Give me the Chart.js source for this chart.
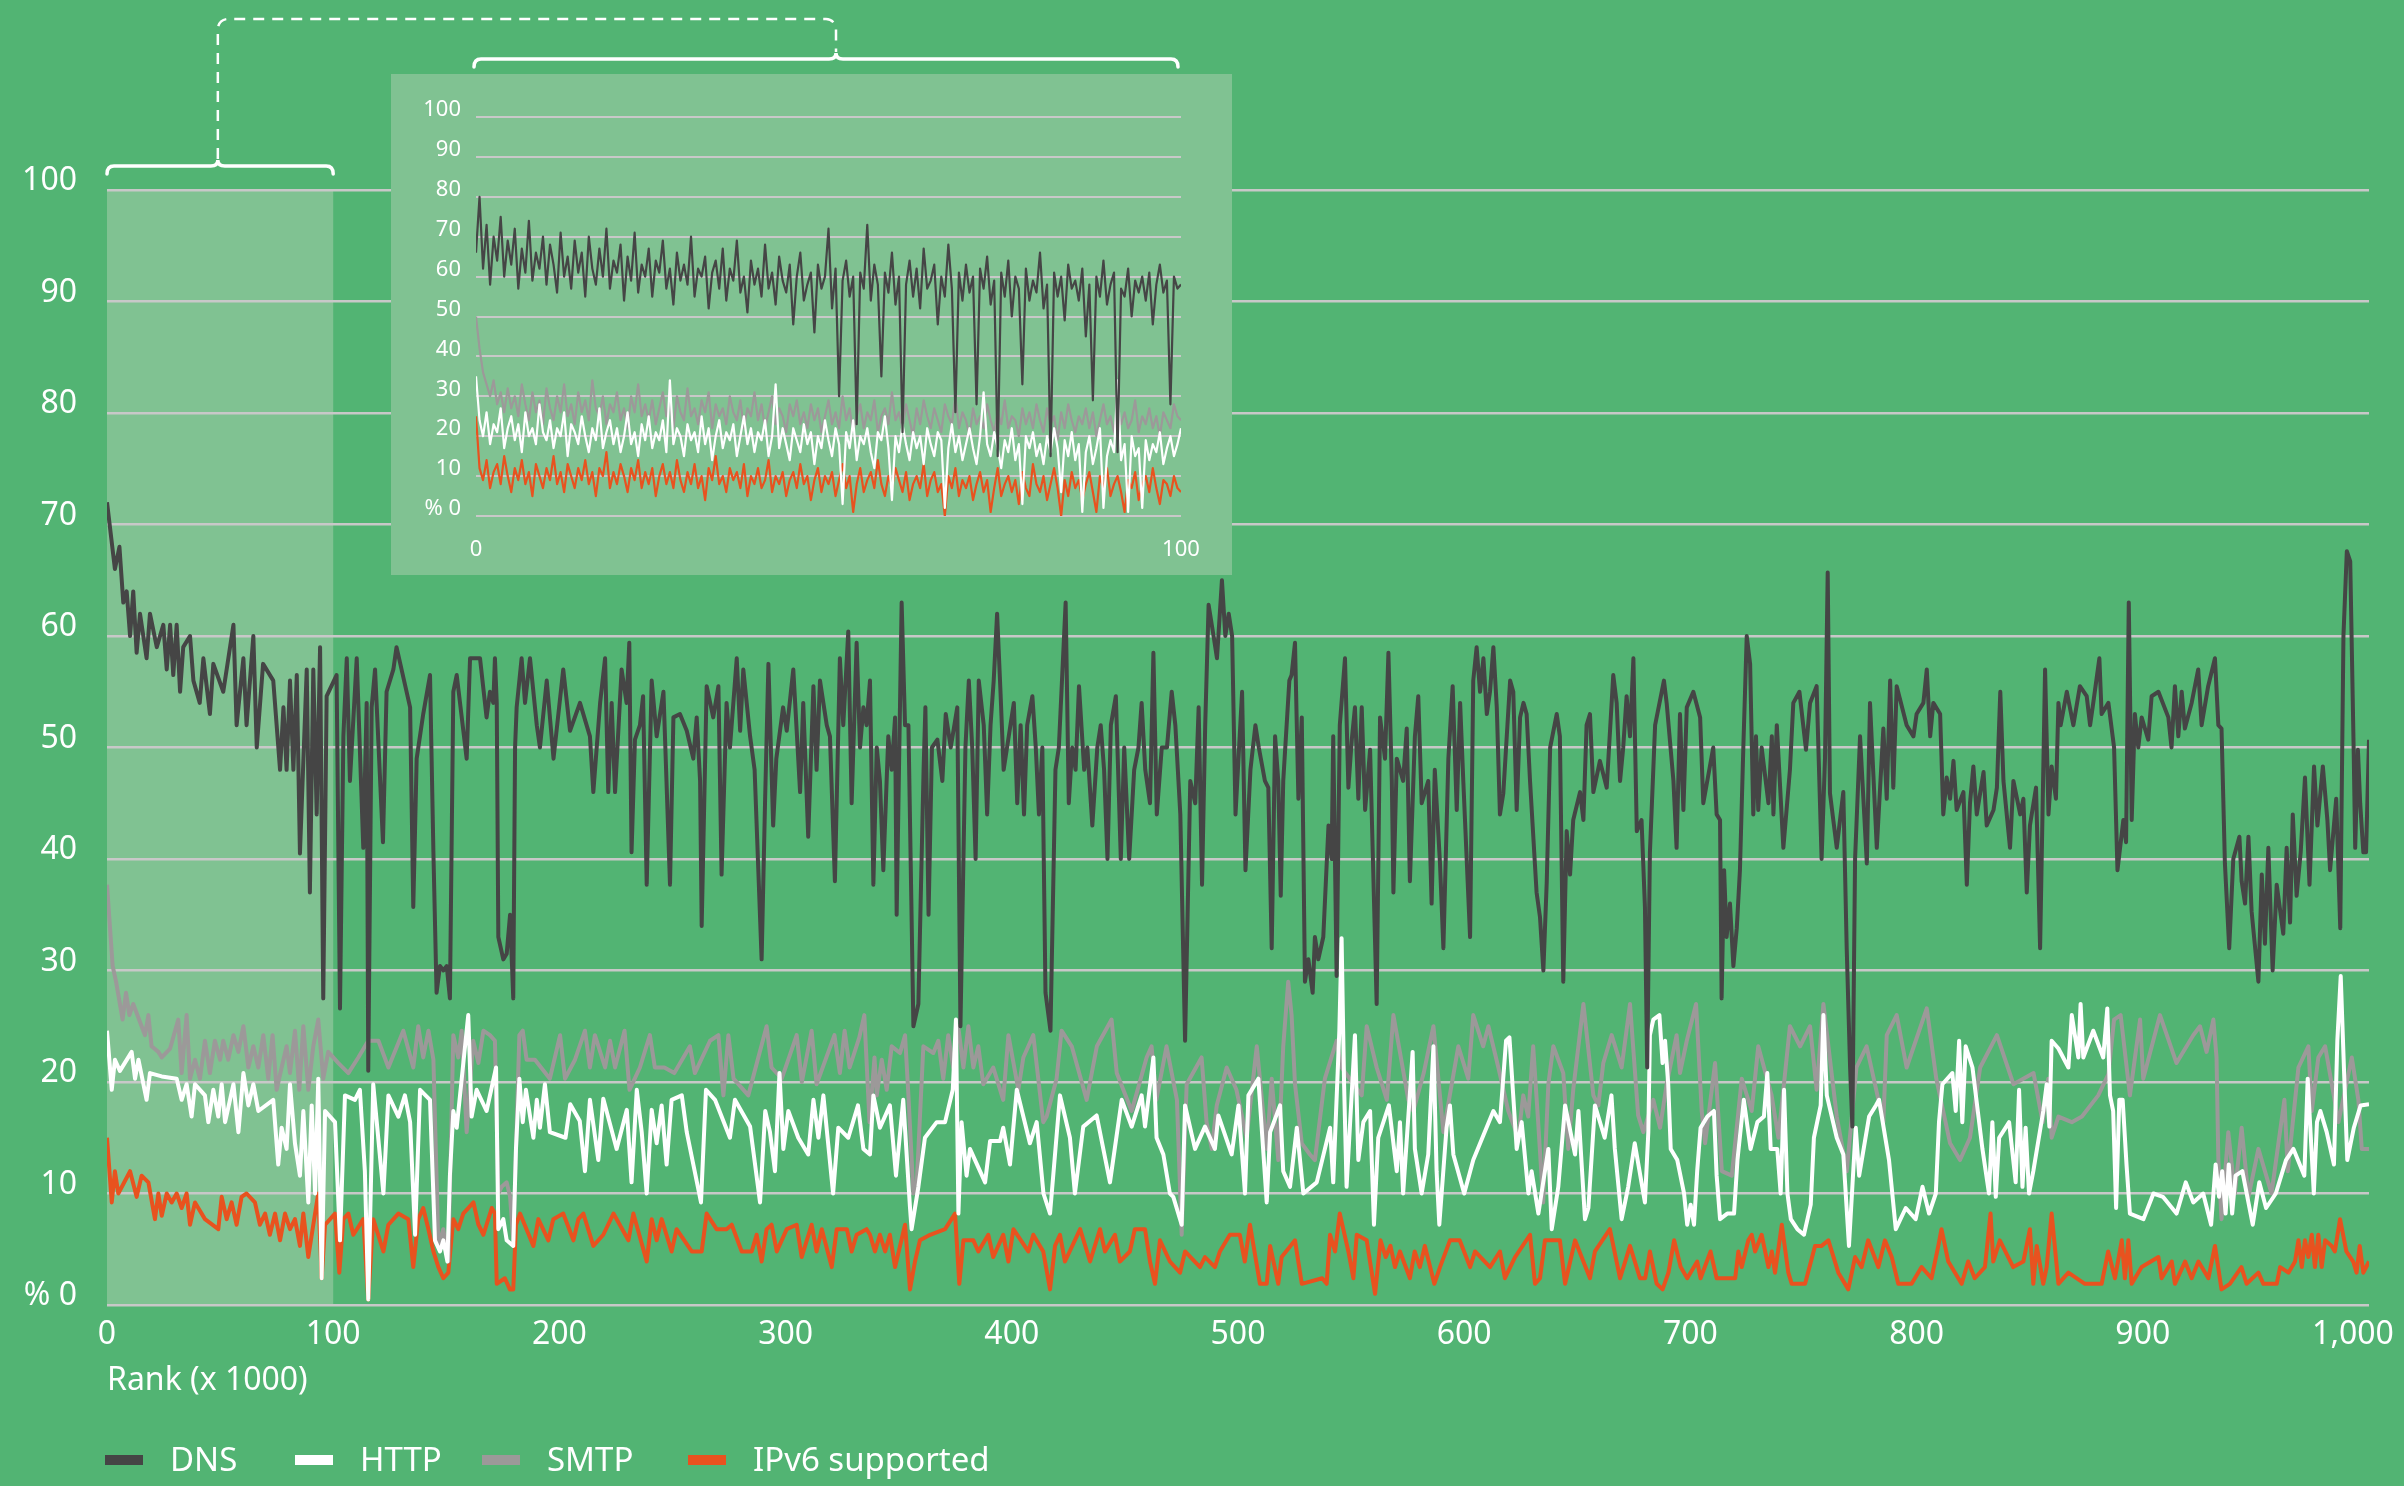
<!DOCTYPE html>
<html>
<head>
<meta charset="utf-8">
<script src="https://cdn.jsdelivr.net/npm/chart.js@4.4.1/dist/chart.umd.min.js"></script>
<style>
html, body { margin: 0; padding: 0; background: #52b473; }
#wrap { position: relative; width: 2404px; height: 1486px; overflow: hidden; }
#main { position: absolute; left: 0; top: 0; }
#inset { position: absolute; left: 391px; top: 74px; background: #80c292; }
</style>
</head>
<body>
<div id="wrap">
  <canvas id="main" width="2404" height="1486"></canvas>
  <canvas id="inset" width="841" height="501"></canvas>
</div>
<script>
// series as [rank (x1000), percent]
const seriesLabels = ['DNS', 'HTTP', 'SMTP', 'IPv6 supported'];
const seriesColors = ['#454545', '#ffffff', '#9c9999', '#e8521f'];

const dnsMain = [[0,72],[3.5,66],[5.5,68],[7.2,63],[8.7,64],[10.2,60],[11.6,64],[13.1,58.5],[14.6,62],[17.5,58],[19,62],[22,59],[24.9,61],[26.4,57],[27.9,61],[29.3,56.5],[30.8,61],[32.3,55],[33.7,59],[36.7,60],[38.2,56],[41,54],[42.6,58],[45.5,53],[47,57.5],[51.4,55],[55.9,61],[57.3,52],[60.3,58],[61.7,52],[64.7,60],[66.2,50],[69,57.5],[73.5,56],[76.5,48],[78,53.6],[79.4,48],[80.9,56],[82.4,48],[83.9,56.5],[85.3,40.5],[88.3,57],[89.7,37],[91.2,57],[92.7,44],[94.2,59],[95.6,27.5],[97.1,54.6],[101.5,56.5],[103,26.6],[104.5,51],[106,58],[107.4,47],[110.4,58],[113.3,41],[114.8,54],[115.5,21],[117,53.6],[118.5,57],[122,41.5],[123.6,55],[126.6,57],[128,59],[134,53.6],[135.4,35.7],[136.9,49],[139.8,53],[142.8,56.5],[144.3,40.6],[145.7,28],[147.2,30.4],[148.7,30],[150.2,30.4],[151.6,27.5],[153.1,55],[154.6,56.5],[159,49],[160.5,58],[164.9,58],[167.8,52.7],[169.3,55],[170.8,54],[171.5,58],[172.3,54],[173,33],[175.2,31],[176.7,31.5],[178.2,35],[179.6,27.5],[180.4,50],[181.1,53.6],[183.3,58],[184.8,54],[187,58],[190,52],[191.4,50],[194.4,56],[197.4,49],[201.7,57],[204.7,51.5],[209.1,54],[213.5,51],[215,46],[218,54],[220.2,58],[221.6,46],[223.1,54],[224.6,46],[227.5,57],[229.7,54],[230.9,59.4],[231.9,40.6],[233.4,50.7],[235.6,52],[237,54.6],[238.6,37.7],[240.8,56],[243,51],[246,55],[248.9,37.7],[250.4,52.7],[253.3,53],[256.3,51.5],[259.2,49],[260.7,52.7],[262.2,47],[262.9,34],[265.1,55.5],[268,52.7],[270.3,55.5],[271.7,38.6],[273.9,54],[275.4,50],[278.4,58],[279.9,51.5],[281.3,57],[284.3,51],[286.3,48],[289.4,31],[290.9,45],[292.4,57.5],[294.5,43],[295.9,49],[298.9,53.6],[300.5,51.5],[303.4,57],[306.4,46],[307.8,54],[310,42],[312.3,55.5],[313.7,48],[315.2,56],[318.2,52],[319.6,51],[321.8,38],[324,58],[325.5,52],[327.7,60.4],[329.2,45],[331.4,59.4],[332.9,50],[334.4,53.6],[335.8,52],[337.3,56],[338.8,37.7],[340.3,50],[341.7,47],[343.2,39],[345.4,51],[346.9,48],[348.4,52.7],[349.1,35],[351.3,63],[352.8,52],[354.3,52],[356.5,25],[358.7,27],[361,48],[361.8,53.6],[363.2,35],[364.7,50],[367.1,50.7],[369.3,47],[370.8,53],[373,50],[375.9,53.6],[377.3,25],[379.5,50],[381,56],[382.5,50],[384,40],[385.4,56],[387.6,52],[389.1,44],[390.6,52],[392,56],[393.5,62],[395,55],[396.4,48],[397.9,50],[400.9,54],[402.4,45],[403.9,52],[405.4,44],[406.8,52],[409.1,54.6],[410.6,50],[412,44],[413.5,50],[414.9,28],[417.1,24.6],[419.3,48],[420.8,50],[423.8,63],[425.2,45],[426.7,50],[428.2,48],[429.7,55.5],[432,48],[433.4,50],[435.6,43],[437.8,50],[439.3,52],[440.8,48],[442.3,40],[443.8,52],[446,54.6],[448.2,40],[449.7,50],[451.9,40],[454.1,48],[456,50],[457.4,54],[459,48],[461.1,45],[462.6,58.5],[464.1,44],[466.3,50],[468.6,50],[470.7,55],[472.3,52],[474.5,44],[476.6,23.7],[478.9,47],[481.1,45],[482.6,53.6],[484.1,37.7],[485.5,52],[487,62.8],[489.2,60],[490.7,58],[492.9,65],[494.4,60],[495.9,62],[497.4,60],[498.9,44],[501.8,55],[503.3,39],[505.5,48],[507.7,52],[509.2,50],[511.9,47],[513.4,46.4],[514.9,32],[516.4,51],[517.8,47],[518.9,36.7],[520,47],[522.7,56],[523.7,56.5],[525.2,59.4],[526.7,45.4],[528.2,52.7],[529.6,29],[531.1,31],[533,28],[534,33],[535.5,31],[537.7,33],[540,43],[541.4,40],[542.1,51],[543.6,29.5],[545,52],[547.3,58],[548.8,46.4],[550.3,50.7],[551.7,53.6],[553.2,45.4],[554.7,53.6],[556.2,44.4],[558.4,49.8],[561.3,27],[562.8,52.7],[565,49],[566.5,58.5],[568,47],[568.7,37],[570.2,49],[573,47],[574.6,51.7],[576,38],[578.2,51],[579.7,54.6],[581.2,45],[584.1,47],[585.6,36],[587,48],[589.3,39.6],[590.8,32],[593,49],[594.9,55.5],[596.7,44.4],[598.2,54],[599.6,47],[602.6,33],[604,56],[605.5,59],[607,55],[608.5,58],[610,53],[611.4,55],[612.9,59],[614.4,53.6],[615.8,44],[617.3,45.9],[620.3,56],[621.7,55],[623.2,44.4],[624.7,52.7],[626.2,54],[627.6,53],[629.1,47],[632,37],[633.5,34.8],[635,30],[636.5,38],[638,50],[640.9,53],[642.3,51],[643.8,29],[645.3,42.5],[646.8,38.6],[648.2,43.5],[651.2,46],[652.7,43.5],[654.1,52],[655.6,53],[657.1,46],[660,48.8],[663,46.4],[665.9,56.5],[667.4,54],[668.9,47],[670.3,50],[671.8,54.6],[673.3,51],[674.8,58],[676.3,42.5],[678.4,43.5],[679.9,35.7],[680.9,21.3],[682.1,40.6],[684.4,52],[688.3,56],[689.5,54],[692.5,47],[693.9,41],[695.4,53],[696.9,44.4],[698.4,53.6],[701.3,55],[704.3,52.7],[705.7,45],[710.1,50],[711.6,44],[713.1,43.5],[713.8,27.5],[714.9,39],[716,33],[717.5,36],[719,30.4],[720.5,33.8],[721.9,39],[723.4,50],[724.9,60],[726.4,57.5],[727.8,44],[729,51],[730,44.4],[731.5,50],[734.5,45],[736,51],[736.7,44],[738.2,52],[741.1,41],[744,48],[745.5,54],[748.2,55],[751.1,49.8],[752.9,54],[755.8,55.5],[758,40],[759.5,49],[760.7,65.7],[761.7,45.9],[764.7,41],[767.6,46],[769.1,32],[770.6,21.3],[771.6,16],[772.8,40],[775,51],[778,39.6],[779.4,54],[782.4,41],[785.3,51.7],[786.8,45.4],[788.3,56],[789.7,46.4],[791.2,55.5],[795.6,52],[798.6,51],[800,53],[803,54],[804.5,57],[806,51],[807.4,54],[810.4,53],[811.8,44],[813.3,47.3],[814.8,45.4],[816.3,48.8],[817.7,44.4],[820.7,46],[822.2,37.7],[823.6,45],[825.1,48.3],[826.6,44],[829.6,47.8],[831,43],[834,44.4],[835.5,46.4],[837,55],[838.4,47],[841.3,41],[842.8,47],[845.8,44],[847.2,45.4],[848.7,37],[850.1,43],[852.8,46.4],[854.6,32],[856.8,57],[858.3,44],[859.7,48.3],[861.6,45.4],[862.7,54],[863.7,52],[866.4,55],[869.3,52],[872.2,55.5],[875.2,54.6],[876.7,52],[878.1,54],[880.8,58],[881.8,53],[884.8,54],[887.3,50],[888.8,39],[891.4,43.5],[892.6,41.5],[893.8,63],[895.1,43.5],[896.5,53],[898,50],[899.5,52.7],[902.4,50.7],[903.9,54.6],[906.9,55],[911.3,52.7],[912.7,50],[914.2,55.5],[915.7,51],[917.2,55],[918.6,51.7],[921.6,54],[924.5,57],[926,52],[928.9,55.5],[931.9,58],[933.4,52],[934.8,51.7],[936.3,39.6],[938.2,32],[940,40],[942.7,42],[943.7,38],[945.2,36],[946.7,42],[948.1,35.3],[951.1,29],[952.6,38.6],[954,32.4],[955.5,41],[957.4,30],[959.2,37.7],[962.1,33.3],[963.6,41],[965.1,34.3],[966.3,44],[968,36.7],[969.8,40.6],[971.7,47.3],[973.7,37.7],[975.7,48.3],[977.2,43],[979.6,48.3],[981.6,43.5],[982.8,39],[985.5,45.4],[987.3,33.8],[988.7,60],[990.2,67.6],[991.7,66.7],[993.2,50],[993.9,41],[995.1,49.8],[996.1,45],[997.5,40.6],[998.7,40.6],[1000,50.7]];

const httpMain = [[0,24.6],[2.1,19.3],[3.5,22],[5.7,21],[10.9,22.7],[12.4,20.3],[13.9,22],[17.5,18.4],[19,20.8],[24.2,20.5],[30.8,20.3],[33,18.4],[35.2,19.8],[37.4,16.9],[38.9,19.8],[43.3,18.8],[44.8,16.4],[47,19.3],[49.2,16.9],[50.7,19.8],[52.2,16.4],[55.9,19.8],[58.1,15.5],[60.3,20.8],[62.5,17.9],[64.7,19.8],[66.9,17.4],[73.5,18.4],[75.7,12.6],[77.2,15.9],[79.4,14],[80.9,19.8],[83.1,14.5],[85.3,11.6],[86.8,17.4],[89,9.2],[90.5,17.9],[92,10],[93.4,20.3],[94.9,2.4],[96.4,17.4],[100.8,16.4],[103,5.8],[105.2,18.8],[109.6,18.4],[111.8,19.3],[114,12],[115.5,0.5],[117.7,19.8],[122.2,10],[124.4,18.8],[128.8,16.9],[131.7,18.8],[134,16.4],[136.2,6.3],[138.4,19.3],[142.8,18.4],[145,5.8],[147.2,4.8],[148.7,5.8],[150.5,3.9],[151.6,11.6],[153.1,17.4],[154.6,15.9],[159.7,26],[161.2,16.9],[163.4,19.3],[167.8,17.4],[172,21.3],[173,6.8],[175.2,7.7],[176.7,5.8],[179.6,5.3],[180.8,14],[182.3,20.3],[183.8,16.4],[185.2,19.3],[188.5,15],[190,18.4],[191.4,15.9],[193.6,19.8],[195.8,15.5],[202.7,15],[204.8,18],[209,16.5],[211.3,12],[213.5,18.4],[217.2,13],[219.4,18.5],[225.3,14],[229.8,17.5],[231.9,11],[234.2,19.3],[236.4,15.5],[238.6,10],[240.8,17.5],[243,14.5],[245.2,17.9],[247.4,12.6],[249.6,18.4],[254.1,18.8],[256.3,15.5],[262.6,9.2],[264.8,19.3],[268.8,18.4],[275.4,15],[277.6,18.4],[284.3,16],[288.7,9.2],[291,17.4],[293.1,15.5],[295.3,12],[297.3,20.8],[299,14],[301.2,17.4],[305.6,15],[310,13.5],[312.3,18.4],[314.5,15],[316.7,18.8],[321,10],[323.3,15.9],[327.7,15],[332,17.9],[334.4,14],[337.3,13.5],[338.8,18.8],[341.7,15.9],[346.1,17.9],[348.8,11.6],[352,18.4],[355,8.7],[355.7,6.8],[358.7,10.6],[361.6,15],[366.8,16.4],[370.5,16.4],[373.9,19.3],[375.3,25.6],[376.4,8.2],[377.8,16.4],[380,11.6],[381.5,14],[388.2,11],[390.4,14.7],[394.8,14.7],[396.2,15.9],[399.2,12.6],[402.2,19.3],[408,14.5],[411,16.4],[414,10],[416.9,8.2],[421.3,18.8],[425.7,15],[427.9,10],[431.6,16],[437.5,17],[443.4,11],[448.6,18.4],[453,16],[457.4,18.8],[458.9,16],[462.6,22.2],[464,15],[467,13.5],[469.9,10],[471.4,9.7],[475.1,7.2],[476.6,17.9],[481,14],[485.4,16],[489.8,14],[491.3,17],[497.2,13.5],[500.2,17.9],[503.1,10],[504.6,18.8],[509,20.3],[512.7,9.2],[514.2,15.5],[518.6,17.9],[520,12],[523,10.6],[526,15.9],[528.9,10],[534.8,11],[540.7,15.9],[542.1,11],[544.8,24.6],[545.8,32.9],[546.9,19.8],[548,10.6],[551.7,24.2],[553.2,13],[555.4,16.4],[558.4,17.4],[560.1,7.2],[562,15],[566.7,17.9],[570.2,12],[571.6,16.4],[573,10],[576.1,19.3],[577.2,22.7],[578.2,14],[581.2,10],[584.1,13.5],[586.4,23.2],[587.8,12],[589,7.2],[592.2,15.9],[593.7,17.9],[595.2,13.5],[600,10],[604,13],[612.9,17.4],[615.8,16.4],[618.5,23.7],[620,24],[623.2,14],[625.4,16.4],[628.4,10],[629.8,12],[632.8,8.2],[637.2,14],[638.7,6.8],[641.6,10.6],[644.6,17.9],[649,13.5],[650.5,17.4],[653.4,7.7],[654.9,8.7],[657.8,17.9],[662.1,15],[665.1,18.8],[666.6,14],[669.6,7.7],[672.5,10.6],[675.4,14.5],[679.9,9.2],[681.4,15.5],[682.1,24.2],[683.6,25.6],[686.3,26],[687.7,21.7],[688.8,23.7],[690.2,19.8],[691.3,14],[694.2,13],[697.2,10],[698.6,7.2],[700.1,9],[701.6,7.2],[703,12],[704.5,15.9],[707.5,16.9],[710.4,17.4],[711.6,11.6],[713.1,7.7],[716.3,8.2],[719.3,8.2],[720.8,13],[723.6,18.4],[726.6,14],[729.6,16.4],[732.5,16.9],[734,20.8],[735.5,14],[738.4,14],[739.9,10],[741.4,19.3],[742.9,10],[744.4,7.7],[747.3,6.8],[750.2,6.3],[753.2,9],[754.6,15],[757.6,17.9],[758.8,26],[760.3,18.8],[764.7,15],[767.6,13.5],[770.1,5.3],[773.1,15.9],[774.6,11.6],[779,16.9],[782,17.9],[783.4,18.4],[787.8,13],[790.8,6.8],[795.2,8.7],[799.6,7.7],[802.6,10.6],[805.5,8.2],[808.5,10],[809.9,16.4],[811.4,19.8],[815.8,20.8],[817.3,17.4],[818.8,23.7],[820.2,16.4],[821.7,23.2],[824.7,21.3],[829.1,14],[832,10],[833.5,16.4],[835,9.7],[836.5,15],[840.9,16.4],[843.8,11],[845.3,19.3],[846.8,10.6],[848.2,15.9],[849.7,10],[851.6,12],[856,17.4],[857.5,19.8],[858.7,16],[859.7,23.7],[862.7,23],[867.1,21.3],[868.6,26],[871.5,22.2],[872.5,27],[873.7,22.2],[878.1,24.6],[882.5,22.2],[884.3,26.6],[885.5,18.8],[886.9,17.4],[888.2,8.7],[889.6,18.4],[891.1,18.4],[892.8,12.6],[894.3,8.2],[900.3,7.7],[904.7,10],[908.9,9.7],[914.9,8.2],[919,11],[922.3,9.2],[926.7,10],[930.2,7.2],[932.2,12.6],[933.7,9.7],[935.1,12],[936.6,8.2],[938,12.6],[939.5,8.2],[941,11.6],[944,12],[948.6,7.2],[951.5,11],[954.5,8.7],[958.8,10],[963.3,13],[966.6,14],[971.4,11.6],[972.9,20.3],[975.6,10],[977,16.4],[978.5,17.4],[981.3,15.5],[984.5,12.6],[986,23.7],[987.5,29.5],[989,20.8],[990.4,13],[993.3,15.9],[996.3,17.9],[1000,18]];

const smtpMain = [[0,37.7],[2.5,30.4],[4,29],[6.9,25.6],[8.4,28],[9.9,26],[11.6,27],[16.8,24.2],[18.3,26],[19.7,23.2],[22.7,22.7],[24.2,22.2],[27.9,23],[31.5,25.6],[33,20.8],[35.2,26],[36.7,20.3],[38.9,22],[41.1,20.3],[43.3,23.7],[45.5,20.8],[47.7,23.7],[50,22],[51.4,23.7],[53.6,22],[55.9,24.2],[58.1,22.7],[60.3,25],[62.5,21.3],[64.7,23.2],[66.9,21.3],[69.1,24.2],[71.3,20.3],[73.2,24.2],[75,19.3],[77.2,21.3],[79.4,23.2],[80.9,20.8],[83.1,24.6],[85,19.3],[86.8,25],[89,19.3],[91.2,23.2],[93.4,25.6],[95.6,20.3],[97.8,22.7],[102.3,21.7],[106.7,20.8],[111.1,22.2],[115.5,23.7],[120,23.7],[124.4,21.3],[131,24.6],[135.4,21.3],[137.6,25],[139.8,22.2],[142.1,24.6],[144.3,22],[146.5,5.3],[148.7,6.8],[150.9,3.9],[153.1,24.2],[155.3,22.2],[156.8,24.6],[159,15.5],[161.9,23.7],[164.2,21.7],[166.4,24.6],[169.3,24.2],[171.5,23.7],[173,10],[174.5,10.6],[176.7,11],[178.2,9.7],[179.6,5.8],[181.1,16],[182.3,24.2],[183.8,24.6],[185.5,22],[189.2,22],[195.8,20.3],[200.3,24.2],[202.5,20.3],[206.9,22],[211.3,24.6],[213.5,21.3],[215.7,24.2],[220.2,21.3],[222.4,23.7],[224.6,21.3],[228.8,24.6],[231,19.3],[235.6,21.3],[240,24.2],[242.2,21.3],[246.4,21.3],[250.8,20.8],[257.7,23.2],[259.9,20.8],[266.6,23.7],[270.3,24.2],[272.5,18.8],[274.7,24.2],[277,20.3],[283.5,18.8],[291.6,25],[293.8,21.3],[298.3,20.3],[304.9,24.2],[307.2,20],[311.5,24.6],[313.7,19.8],[321.6,24.2],[324,20.8],[326.1,24.6],[328.3,21.3],[332.6,24],[334.8,26],[337.1,16.4],[339.3,22.2],[340.3,18.8],[342.5,22],[344.7,19.3],[346.9,23.2],[350.6,22.6],[352.8,24.2],[354.3,18.8],[356.5,10],[358,11],[360.9,23.2],[365.3,22.6],[367.5,23.7],[369.7,20.3],[371.9,24.2],[374.1,21.3],[376.3,25],[378.6,21.3],[380.8,25],[383,21.3],[385.2,23.2],[387.4,19.8],[391.8,21.3],[396.2,18.4],[398.5,24.2],[402.9,19.3],[405.1,22.2],[409.5,24.2],[413.9,16.4],[415.4,16.9],[419.8,20.3],[422,24.6],[426.5,23.2],[433.1,18.4],[437.6,23.2],[444.1,25.6],[446.4,20.8],[453,17.4],[459.6,22.2],[461.8,23.2],[463.9,18.4],[468.4,23.2],[473,18.4],[475.1,6.3],[477.3,19.8],[483.9,22.2],[486.1,16.4],[488.4,14],[490.6,17.9],[495,21.3],[499.3,19.3],[503.8,15],[508.3,23.2],[512.7,14],[514.9,20.3],[517.8,13],[520,23.2],[522.2,29],[523.7,26],[525.2,19.8],[528.2,14.5],[531.8,13.5],[534,13],[538.4,20.3],[543.6,23.7],[545.8,21.3],[554.7,18.8],[556.9,25],[561.3,21.3],[565.8,18.4],[568.7,26],[575.3,18.4],[577.5,17.4],[582.1,20.8],[586.4,25],[590.8,15.5],[597.4,23.2],[601.8,20.3],[604,26],[608.4,23.2],[610.7,25],[615.1,21.3],[619.5,17.4],[623.9,15],[626.1,18.8],[628.3,16.9],[630.5,23.2],[632.7,16.4],[634.9,9.2],[637.2,19.8],[639.4,23.2],[643.8,20.8],[646,14],[648.2,19.3],[652.7,27],[657.1,18.8],[659.3,17.9],[661.5,21.7],[665.2,24.2],[669.6,21.3],[673.3,27],[676.9,17],[679.2,15.5],[683.6,18.4],[686.6,15.9],[689.5,19.8],[693.9,24.2],[695.4,20.8],[698.4,23.7],[702.5,27],[705,17.4],[706.5,14.5],[710.9,21.7],[713.9,12],[718.3,11.6],[722.7,20.3],[727.1,17.4],[730,23.2],[735.9,18.8],[738.9,15],[744,25],[748.5,23.2],[752.9,25],[755.8,19.3],[758.8,27],[764.7,16.9],[769.1,12],[773.4,21.3],[777.9,23.2],[785.3,16.4],[786.8,24.2],[791.2,26],[795.6,21.3],[804.5,26.6],[808.7,20.3],[814.8,14.5],[819.2,13],[823.6,15],[828.1,21.3],[835.5,24.2],[842.8,19.8],[851.7,20.8],[855.7,16.4],[858.2,20.3],[859.7,15],[862.7,16.9],[868.6,16.4],[873.1,16.9],[880.3,18.8],[884.8,20.7],[887.3,25.6],[890.2,26],[894.3,18.8],[898.8,25.6],[900.2,20.3],[907.6,26],[914.9,21.7],[922.3,24.2],[925.3,25],[928.2,22.7],[931.2,25.6],[932.6,22.2],[933.4,13],[934.8,7.7],[937.8,15.5],[940.7,10],[943.7,15.9],[946.7,9.7],[951.1,14],[956.9,10],[962.6,18.4],[964.1,12],[968.8,21.3],[973.2,23.2],[974.7,17.4],[977.6,22.2],[980.6,23.2],[986.5,16.4],[992.4,22.2],[995.3,18.4],[996.8,14],[1000,14]];

const ipv6Main = [[0,15],[2.1,9.2],[3.5,12],[5,10],[10.2,12],[13.1,9.7],[15.3,11.6],[18.3,11],[21.2,7.7],[22.7,10],[24.2,8],[26.4,10],[28.6,9.2],[30.8,10],[33,8.7],[35.2,10],[36.7,7.2],[38.9,9.2],[43.3,7.7],[49.2,6.8],[50.7,9.7],[52.9,7.7],[55.1,9.2],[57.3,7.2],[59.5,9.7],[61.7,10],[65.4,9.2],[67.6,7.2],[69.9,8.2],[72,6.3],[74.3,8.2],[76.5,5.8],[78.7,8.2],[80.9,6.8],[83.1,7.7],[85.3,5.3],[86.8,8.2],[89,4.3],[91.2,7.2],[93.4,10],[94.9,2.4],[96.4,7.2],[100.8,8.2],[102.7,2.9],[104.5,7.7],[106.7,8.2],[108.9,6.3],[113.3,7.7],[115.5,0.5],[117.7,7.7],[122.2,4.8],[124.4,7.2],[128.8,8.2],[133.2,7.7],[135.4,3.4],[137.6,7.7],[139.8,8.7],[142.1,6.8],[144.3,4.8],[146.5,3.4],[148.7,2.4],[150.9,2.9],[153.1,7.7],[155.3,6.8],[157.5,8.2],[162,9.2],[164.2,7.2],[166.4,6.3],[170.1,8.7],[171.5,8.2],[172.3,1.9],[175.9,2.4],[178.1,1.4],[179.6,1.4],[180.8,7.2],[182.6,8.2],[188.5,5.3],[190.7,7.7],[195.1,5.8],[197.3,7.7],[201.7,8.2],[206.2,5.8],[208.4,7.7],[210.6,8.2],[215,5.3],[219.4,6.3],[223.9,8.2],[230.5,5.8],[232.7,8.2],[238.6,3.9],[240.8,7.7],[243,5.8],[245.2,7.7],[249.6,4.8],[251.8,6.8],[258.5,4.8],[262.9,4.8],[265.1,8.2],[269.5,6.8],[273.9,6.8],[276.2,7.2],[280.6,4.8],[285,4.8],[287.2,6.3],[289.4,3.9],[291.6,6.8],[293.8,7.2],[296.1,4.8],[300.5,6.8],[304.9,7.2],[307.1,4.3],[311.5,7.2],[313.7,4.8],[316,6.8],[320.4,3.4],[322.6,6.8],[327.1,6.8],[329.2,4.8],[331.4,6.3],[335.8,6.8],[337.3,6.3],[339.5,4.8],[341.7,6.3],[344,4.8],[346.1,6.3],[348.4,3.4],[352.8,7.2],[355,1.4],[357.2,3.9],[359.4,5.8],[363.9,6.3],[370.5,6.8],[374.9,8.2],[376.8,1.9],[378.6,5.8],[383,5.8],[385.2,4.8],[389.6,6.3],[391.8,4.3],[396.2,6.3],[398.5,3.9],[400.7,6.8],[407.3,4.8],[409.5,6.3],[413.9,4.8],[416.9,1.4],[419.1,5.3],[421.3,6.3],[423.5,3.9],[430.2,6.8],[434.6,3.9],[439,6.8],[441.2,4.8],[445.6,6.3],[447.8,3.9],[452.2,4.8],[454.4,6.8],[458.9,6.8],[461.1,3.9],[463.3,1.9],[465.5,5.8],[469.9,3.9],[474.4,2.9],[476.6,4.8],[483.2,3.4],[485.4,4.3],[489.8,3.4],[492,4.8],[496.4,6.3],[500.8,6.3],[503,3.9],[505.3,7.2],[509.7,1.9],[512.7,1.9],[514.2,5.3],[517.8,1.9],[519.3,4.3],[525.2,5.8],[528.2,1.9],[537.2,2.4],[539.2,1.9],[540.7,6.3],[542.9,4.8],[545,8.2],[548.8,4.8],[551,2.4],[552.5,6.3],[556.9,5.8],[560.6,1],[563,5.8],[565.3,4.3],[567.4,5.3],[569.4,3.4],[571.6,4.8],[576,2.4],[578.1,4.8],[580.4,3.4],[582.6,5.3],[586.8,1.9],[589.3,3.4],[593.7,5.8],[598,5.8],[602.6,3.4],[604.8,4.8],[611.4,3.4],[615.8,4.8],[618,2.4],[622.5,4.3],[629.1,6.3],[631.3,1.9],[633.5,2.4],[635.7,5.8],[642.3,5.8],[644.6,1.9],[649,5.8],[655.6,2.4],[657.8,4.8],[664.4,6.8],[668.9,2.4],[673.3,5.3],[677.7,2.4],[680,2.4],[682.1,4.8],[685.1,1.9],[687.7,1.4],[690.3,2.9],[692.8,5.8],[695.7,3.4],[698.6,2.4],[703,3.9],[704.5,2.4],[708.9,4.8],[711.6,2.4],[719.8,2.4],[721.2,4.8],[722.7,3.4],[725.6,5.8],[727.1,6.3],[728.6,4.8],[731.5,6.3],[734.5,3.4],[736,4.8],[737.4,2.9],[740.4,7.2],[743.3,2.9],[744.8,1.9],[750.7,1.9],[755.1,5.3],[758,5.3],[761,5.8],[765.4,2.9],[769.8,1.4],[772.8,4.3],[775.7,3.4],[778.6,5.8],[783.1,3.4],[786,5.8],[789,4.3],[791.9,1.9],[797.8,1.9],[802.2,3.4],[806.6,2.4],[809.6,5.3],[811,6.8],[814,3.9],[819.9,1.9],[822.8,3.9],[825.7,2.4],[830.2,3.4],[832.7,8.2],[833.9,3.9],[836.8,5.8],[842.7,3.4],[847.2,3.9],[850.1,6.8],[851.6,1.9],[853.1,5.3],[856,1.9],[857.5,3.4],[859.7,8.2],[862.7,1.9],[867.1,2.9],[874.4,1.9],[881.8,1.9],[884.7,4.8],[887.7,2.4],[890.7,5.8],[892.1,2.4],[893.6,5.8],[895.1,1.9],[899.5,3.4],[906.9,4.3],[908.3,2.4],[912.8,3.9],[914.2,1.9],[918.7,3.9],[921.6,2.4],[924.6,3.9],[929,2.4],[931.9,5.3],[934.8,1.4],[938.5,1.9],[943.6,3.4],[945.9,1.9],[951.1,2.9],[953.3,1.9],[959.2,1.9],[960.7,3.4],[964.4,2.9],[967.3,3.9],[968.8,5.8],[970.3,3.4],[971.7,5.8],[973.2,4.3],[974.7,6.3],[976.1,3.4],[977.6,6.3],[979.1,3.4],[980.6,5.8],[983.5,5.3],[984.9,4.8],[987.2,7.7],[990,4.8],[993,3.9],[994.5,2.9],[995.9,5.3],[997.5,2.9],[1000,3.9]];

// inset: ranks 0..100 (x 1000), one value every 0.5
const insetStep = 0.5;
const insetDns = [66,80,62,73,58,70,64,75,60,69, 63,72,57,67,61,74,59,66,62,70, 58,68,63,56,71,60,65,57,69,61, 66,55,70,62,58,67,60,72,57,64,
  61,68,54,65,59,71,56,63,60,67, 55,64,61,69,57,62,53,66,59,63, 58,70,55,62,60,65,52,61,64,57, 67,54,62,59,69,56,60,51,64,58,
  62,55,68,57,61,53,65,59,56,63, 48,60,66,54,58,61,46,63,57,60, 72,52,62,30,59,64,55,60,23,61, 57,73,54,63,58,35,61,56,66,53,
  60,21,58,64,55,62,52,67,57,59, 63,48,60,55,68,57,26,61,54,63, 56,60,28,62,57,65,53,59,15,61, 55,64,50,60,57,33,62,54,59,56,
  66,52,58,15,61,55,60,49,63,57, 59,54,62,45,58,29,60,55,64,53, 58,61,16,57,55,62,50,59,56,60, 54,61,48,58,63,56,59,28,60,57, 58];
const insetHttp = [35,24,20,26,18,23,21,27,17,22, 25,19,23,16,26,20,22,18,28,21, 19,24,17,22,20,26,15,23,21,18, 25,20,16,22,19,27,17,21,24,18,
  22,16,20,26,18,21,15,23,19,25, 17,21,19,24,16,34,18,22,20,15, 23,19,21,16,25,18,22,14,20,24, 17,21,19,23,15,20,25,18,22,16,
  21,19,24,15,20,33,17,22,18,14, 22,19,16,23,18,21,13,20,17,24, 19,15,22,18,3,21,17,24,14,20, 18,22,16,12,21,19,25,17,4,20,
  16,23,18,14,21,17,20,13,22,18, 15,21,19,2,17,23,16,20,14,18, 22,17,13,20,31,18,15,21,17,12, 19,16,22,14,18,3,20,17,21,15,
  18,13,20,16,22,17,6,19,15,21, 14,18,1,16,20,13,17,22,2,15, 19,16,34,14,18,1,20,15,17,2, 19,14,18,16,21,13,17,20,15,18, 22];
const insetSmtp = [50,42,36,33,30,34,28,31,26,32, 27,30,25,33,28,24,31,26,29,23, 32,27,24,30,26,33,25,28,23,31, 26,29,24,34,27,25,30,23,28,26,
  31,24,27,22,30,26,33,25,28,24, 29,23,27,31,25,28,22,30,26,24, 32,25,27,23,29,26,31,22,28,25, 27,23,30,26,24,29,22,27,25,31,
  24,28,22,26,30,23,27,25,21,28, 25,29,23,26,22,28,24,27,21,25, 29,23,26,22,30,24,27,21,25,28, 22,26,24,29,21,25,27,23,31,24,
  26,22,28,24,20,27,23,29,25,22, 27,24,21,28,25,23,30,22,26,24, 20,27,23,25,22,28,24,21,26,23, 29,22,25,24,20,27,23,26,22,28,
  24,21,27,23,25,19,26,22,28,24, 21,25,23,27,22,26,20,24,28,23, 25,21,27,23,26,22,24,29,21,25, 23,27,22,25,20,26,24,22,28,25, 24];
const insetIpv6 = [25,12,9,14,7,11,13,8,15,10, 6,12,9,14,8,11,5,13,10,7, 12,9,15,8,11,6,13,10,7,12, 9,14,8,11,5,12,10,16,7,11,
  8,13,10,6,12,9,14,7,11,8, 12,5,10,13,8,11,7,14,9,6, 11,8,13,7,10,4,12,9,15,8, 10,6,12,9,11,7,13,5,10,8,
  12,7,9,14,6,10,8,11,5,9, 11,7,13,8,10,4,9,12,6,10, 8,11,5,9,13,7,10,1,8,12, 6,9,11,7,14,8,5,10,7,12,
  9,6,11,4,8,10,7,13,5,9, 11,6,8,0,10,7,12,5,9,7, 10,4,8,11,6,9,1,7,12,5, 8,10,6,9,3,11,7,5,13,8,
  6,10,4,8,12,7,0,9,5,11, 7,9,4,8,11,6,1,10,7,12, 5,8,10,6,1,9,7,11,4,8, 10,6,12,7,3,9,8,5,10,7, 6];

Chart.defaults.font.family = "'Noto Sans', 'DejaVu Sans', sans-serif";
Chart.defaults.color = '#ffffff';

const pctLabel = v => (v === 0 ? '% 0' : v);
// the last rank label sits a little inside the right edge, as in the original
const rankLabel = v => (v === 1000 ? '1,000\u2002\u2002' : v.toLocaleString('en-US'));
const toPoints = pairs => pairs.map(p => ({ x: p[0], y: p[1] }));
const insetPoints = vals => vals.map((v, i) => ({ x: i * insetStep, y: v }));

function makeDatasets(list, width) {
  return list.map((data, i) => ({
    label: seriesLabels[i],
    data: data,
    borderColor: seriesColors[i],
    backgroundColor: seriesColors[i],
    borderWidth: width,
    borderJoinStyle: 'round',
    pointRadius: 0,
    tension: 0,
    fill: false
  }));
}

// lighter band behind the first 100k ranks
const highlightBand = {
  id: 'highlightBand',
  beforeDraw(chart) {
    const { ctx, scales: { x, y } } = chart;
    ctx.save();
    ctx.fillStyle = '#80c292';
    ctx.fillRect(x.getPixelForValue(0), y.getPixelForValue(100),
      x.getPixelForValue(100) - x.getPixelForValue(0), y.getPixelForValue(0) - y.getPixelForValue(100));
    ctx.restore();
  }
};

function bracket(ctx, x1, x2, xm, y) {
  ctx.beginPath();
  ctx.moveTo(x1, y + 8);
  ctx.quadraticCurveTo(x1, y, x1 + 7, y);
  ctx.lineTo(xm - 7, y);
  ctx.quadraticCurveTo(xm, y, xm, y - 6);
  ctx.quadraticCurveTo(xm, y, xm + 7, y);
  ctx.lineTo(x2 - 7, y);
  ctx.quadraticCurveTo(x2, y, x2, y + 8);
  ctx.stroke();
}

// brackets linking the band to the zoomed inset
const zoomBrackets = {
  id: 'zoomBrackets',
  afterDraw(chart) {
    const { ctx, scales: { x } } = chart;
    const lowY = 166, upY = 59;
    const a = x.getPixelForValue(0), b = x.getPixelForValue(100), am = x.getPixelForValue(49);
    const um = 836;
    ctx.save();
    ctx.strokeStyle = '#ffffff';
    ctx.lineWidth = 3.5;
    ctx.lineCap = 'round';
    bracket(ctx, a, b, am, lowY);
    bracket(ctx, 474, 1178, um, upY);
    ctx.lineWidth = 2.5;
    ctx.lineCap = 'butt';
    ctx.setLineDash([11, 8]);
    ctx.beginPath();
    ctx.moveTo(am, lowY - 7);
    ctx.arcTo(am, 19, um, 19, 10);
    ctx.arcTo(um, 19, um, upY - 7, 10);
    ctx.lineTo(um, upY - 7);
    ctx.stroke();
    ctx.restore();
  }
};

const bottomLegend = {
  id: 'bottomLegend',
  afterDraw(chart) {
    const ctx = chart.ctx;
    const xs = [105, 295, 482, 688];
    ctx.save();
    ctx.font = "33px 'Noto Sans'";
    ctx.textBaseline = 'middle';
    chart.data.datasets.forEach((ds, i) => {
      ctx.fillStyle = ds.borderColor;
      ctx.fillRect(xs[i], 1455, 38, 10);
      ctx.fillStyle = '#ffffff';
      ctx.fillText(ds.label, xs[i] + 65, 1462);
    });
    ctx.restore();
  }
};

new Chart(document.getElementById('main'), {
  type: 'line',
  data: { datasets: makeDatasets([dnsMain, httpMain, smtpMain, ipv6Main].map(toPoints), 4) },
  options: {
    responsive: false,
    animation: false,
    devicePixelRatio: 1,
    layout: { padding: { top: 190, right: 35, bottom: 86, left: 0 } },
    plugins: { legend: { display: false }, tooltip: { enabled: false } },
    scales: {
      x: {
        type: 'linear', min: 0, max: 1000,
        ticks: { stepSize: 100, autoSkip: false, maxRotation: 0, font: { size: 32 }, padding: 11, color: '#ffffff', callback: rankLabel },
        grid: { display: false, drawTicks: false },
        border: { display: false },
        title: { display: true, text: 'Rank (x 1000)', align: 'start', color: '#ffffff', font: { size: 32 }, padding: { top: 6, bottom: 0 } },
        afterFit(s) { s.paddingLeft = 0; s.paddingRight = 0; s.height = 95; }
      },
      y: {
        min: 0, max: 100,
        ticks: { stepSize: 10, font: { size: 32 }, padding: 30, labelOffset: -9, color: '#ffffff', callback: pctLabel },
        grid: { color: '#c8c8c8', lineWidth: 2.5, drawTicks: false },
        border: { display: false },
        afterFit(s) { s.width = 107; s.paddingTop = 0; s.paddingBottom = 0; }
      }
    }
  },
  plugins: [highlightBand, zoomBrackets, bottomLegend]
});

new Chart(document.getElementById('inset'), {
  type: 'line',
  data: { datasets: makeDatasets([insetDns, insetHttp, insetSmtp, insetIpv6].map(insetPoints), 2.2) },
  options: {
    responsive: false,
    animation: false,
    devicePixelRatio: 1,
    layout: { padding: { top: 43, right: 51, bottom: 11, left: 0 } },
    plugins: { legend: { display: false }, tooltip: { enabled: false } },
    scales: {
      x: {
        type: 'linear', min: 0, max: 100,
        ticks: { stepSize: 100, maxRotation: 0, font: { size: 22 }, padding: 21, color: '#ffffff' },
        grid: { display: false, drawTicks: false },
        border: { display: false },
        afterFit(s) { s.paddingLeft = 0; s.paddingRight = 0; s.height = 48; }
      },
      y: {
        min: 0, max: 100,
        ticks: { stepSize: 10, font: { size: 22 }, padding: 15, labelOffset: -7, color: '#ffffff', callback: pctLabel },
        grid: { color: '#c8c8c8', lineWidth: 2, drawTicks: false },
        border: { display: false },
        afterFit(s) { s.width = 85; s.paddingTop = 0; s.paddingBottom = 0; }
      }
    }
  }
});
</script>
</body>
</html>
